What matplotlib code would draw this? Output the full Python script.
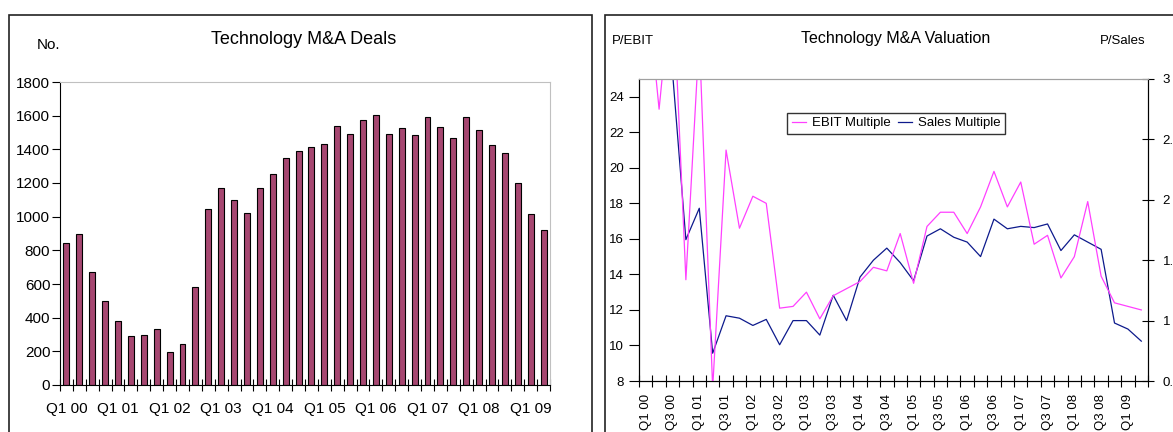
import numpy as np
import matplotlib
matplotlib.use('Agg')
import matplotlib.pyplot as plt
from matplotlib.patches import Rectangle

plt.rcParams['font.family'] = ['Liberation Sans', 'DejaVu Sans']

# quarterly deal counts, Q1 00 .. Q2 09
deals = [845, 895, 671, 499, 378, 291, 297, 333, 194, 245,
         580, 1044, 1172, 1097, 1020, 1168, 1253, 1349, 1388, 1414,
         1430, 1537, 1489, 1572, 1602, 1489, 1529, 1483, 1590, 1531,
         1467, 1590, 1515, 1426, 1376, 1198, 1018, 919]
deal_labels = ['Q1 00', 'Q1 01', 'Q1 02', 'Q1 03', 'Q1 04',
               'Q1 05', 'Q1 06', 'Q1 07', 'Q1 08', 'Q1 09']

# valuation multiples, Q1 00 .. Q2 09
ebit = [31, 23.3, 31, 13.7, 27.4, 7.6, 21.0, 16.6, 18.4, 18.0,
        12.1, 12.2, 13.0, 11.5, 12.8, 13.2, 13.6, 14.4, 14.2, 16.3,
        13.5, 16.7, 17.5, 17.5, 16.3, 17.8, 19.8, 17.8, 19.2, 15.7,
        16.2, 13.8, 15.0, 18.1, 13.9, 12.4, 12.2, 12.0]
sales = [3.6, 3.4, 3.06, 1.67, 1.93, 0.73, 1.04, 1.02, 0.96, 1.01,
         0.80, 1.00, 1.00, 0.88, 1.21, 1.00, 1.36, 1.50, 1.60, 1.48,
         1.33, 1.70, 1.76, 1.69, 1.65, 1.53, 1.84, 1.76, 1.78, 1.77,
         1.80, 1.58, 1.71, 1.65, 1.59, 0.98, 0.93, 0.83]
val_labels = ['Q1 00', 'Q3 00', 'Q1 01', 'Q3 01', 'Q1 02', 'Q3 02', 'Q1 03',
              'Q3 03', 'Q1 04', 'Q3 04', 'Q1 05', 'Q3 05', 'Q1 06', 'Q3 06',
              'Q1 07', 'Q3 07', 'Q1 08', 'Q3 08', 'Q1 09']

W, H = 1173, 432
fig = plt.figure(figsize=(W / 100, H / 100), dpi=100)
fig.patch.set_facecolor('white')


def px_axes(x0, y0, x1, y1):
    return fig.add_axes([x0 / W, 1 - y1 / H, (x1 - x0) / W, (y1 - y0) / H])


# panel frames
for x0, x1 in [(8.5, 591.5), (605, 1200)]:
    fig.add_artist(Rectangle((x0 / W, -0.1), (x1 - x0) / W, 1.1 - 15 / H,
                             transform=fig.transFigure, fill=False,
                             edgecolor='#222222', linewidth=1.2))

# ---- left: deals bar chart
ax1 = px_axes(60, 82, 550, 385)
n = len(deals)
x = np.arange(n)
ax1.bar(x + 0.08, deals, width=0.46, color='#8a8a8a', zorder=1)
ax1.bar(x, deals, width=0.46, color='#a64771', edgecolor='black',
        linewidth=0.8, zorder=2)
ax1.set_xlim(-0.5, n - 0.5)
ax1.set_ylim(0, 1800)
ax1.set_yticks(range(0, 1801, 200))
ax1.set_xticks(np.arange(-0.5, n), labels=[])
ax1.set_xticks(np.arange(0, n, 4), labels=deal_labels, minor=True)
ax1.tick_params(axis='x', which='major', direction='inout', length=8, width=0.8)
ax1.tick_params(axis='x', which='minor', length=0, pad=12, labelsize=11)
ax1.tick_params(axis='y', direction='out', length=6, width=0.8, pad=1, labelsize=11)
for s in ['top', 'right']:
    ax1.spines[s].set_color('#c0c0c0')
for s in ['left', 'bottom']:
    ax1.spines[s].set_color('black')
fig.text(304 / W, 1 - 40 / H, 'Technology M&A Deals', ha='center', va='center', fontsize=13)
fig.text(37 / W, 1 - 45 / H, 'No.', ha='left', va='center', fontsize=11)

# ---- right: valuation lines
ax2 = px_axes(639, 79, 1148, 381)
ax2r = ax2.twinx()
xv = np.arange(len(ebit))
l1, = ax2.plot(xv, ebit, color='#ff40ff', linewidth=0.9, label='EBIT Multiple')
l2, = ax2r.plot(xv, sales, color='#0d1a8c', linewidth=0.9, label='Sales Multiple')
ax2.set_xlim(-0.5, len(ebit) - 0.5)
ax2.set_ylim(8, 25)
ax2r.set_ylim(0.5, 3)
ax2.set_yticks(range(8, 25, 2))
ax2r.set_yticks([0.5, 1, 1.5, 2, 2.5, 3], labels=['0.5', '1', '1.5', '2', '2.5', '3'])
ax2.set_xticks(np.arange(-0.5, len(ebit)), labels=[])
ax2.set_xticks(np.arange(0, len(ebit), 2), labels=val_labels, minor=True, rotation=90)
ax2.tick_params(axis='x', which='major', direction='inout', length=9, width=0.8)
ax2.tick_params(axis='x', which='minor', length=0, pad=9, labelsize=9.5)
ax2.tick_params(axis='y', direction='out', length=7, width=0.8, pad=4, labelsize=9.5)
ax2r.tick_params(axis='y', direction='inout', length=9, width=0.8, pad=6, labelsize=9.5)
for a in (ax2, ax2r):
    a.spines['top'].set_color('#a0a0a0')
ax2.set_zorder(ax2r.get_zorder() + 1)
ax2.patch.set_visible(False)

leg = ax2.legend([l1, l2], ['EBIT Multiple', 'Sales Multiple'], ncol=2,
                 loc='upper left', bbox_to_anchor=(0.2917, 0.889), borderaxespad=0,
                 fontsize=9.5, frameon=True, fancybox=False, handlelength=1.05,
                 handletextpad=0.45, columnspacing=0.55, borderpad=0.35)
leg.get_frame().set_edgecolor('black')
leg.get_frame().set_linewidth(1.0)

fig.text(896 / W, 1 - 38.5 / H, 'Technology M&A Valuation', ha='center', va='center', fontsize=11.5)
fig.text(612 / W, 1 - 40.5 / H, 'P/EBIT', ha='left', va='center', fontsize=9.5)
fig.text(1100 / W, 1 - 40.5 / H, 'P/Sales', ha='left', va='center', fontsize=9.5)

fig.savefig('out.png', dpi=100, facecolor='white')
